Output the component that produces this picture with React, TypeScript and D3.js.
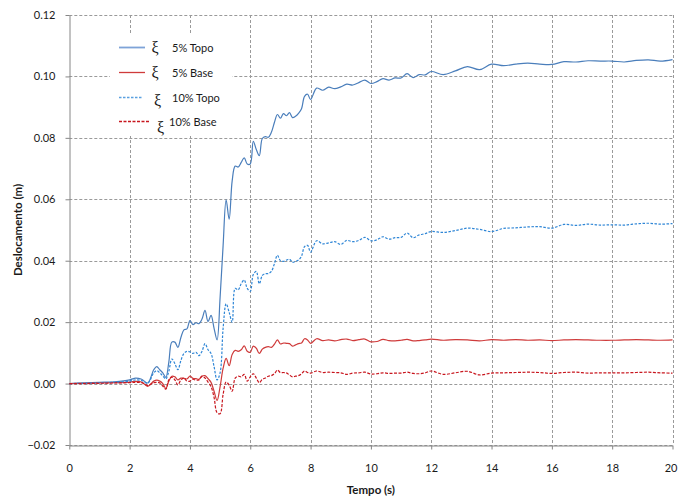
import React, { useEffect, useRef } from 'react';
import * as d3 from 'd3';

// tempo (s)
const tempo = [
  0, 0.5, 1, 1.5, 2, 2.2, 2.4, 2.6,
  2.8, 2.9, 3.0, 3.1, 3.2, 3.3, 3.4, 3.5, 3.6, 3.7, 3.8, 3.9,
  4.0, 4.1, 4.2, 4.3, 4.4, 4.5, 4.6, 4.7, 4.8, 4.9,
  5.0, 5.1, 5.2, 5.3, 5.4, 5.5, 5.6, 5.7, 5.8, 5.9,
  6.0, 6.1, 6.2, 6.3, 6.4, 6.5, 6.6, 6.7, 6.8, 6.9,
  7.0, 7.1, 7.2, 7.3, 7.4, 7.5, 7.6, 7.7, 7.8, 7.9,
  8.0, 8.2, 8.4, 8.6, 8.8, 9.0, 9.2, 9.4, 9.6, 9.8,
  10.0, 10.2, 10.4, 10.6, 10.8, 11.0, 11.2, 11.4, 11.6, 11.8,
  12.0, 12.4, 12.8, 13.2, 13.6, 14.0, 14.4, 14.8, 15.2, 15.6,
  16.0, 16.4, 16.8, 17.2, 17.6, 18.0, 18.4, 18.8, 19.2, 19.6, 20.0,
];

const topo5 = [
  0, 0.0002, 0.0004, 0.0006, 0.0012, 0.0018, 0.0014, 0.0002,
  0.0045, 0.0055, 0.0045, 0.0035, 0.002, 0.007, 0.0135, 0.0135, 0.0118, 0.015, 0.0175, 0.0178,
  0.0205, 0.0192, 0.0198, 0.0195, 0.021, 0.0238, 0.0202, 0.0222, 0.018, 0.0142,
  0.028, 0.045, 0.0598, 0.0535, 0.066, 0.0708, 0.0705, 0.072, 0.0735, 0.0715,
  0.0715, 0.0789, 0.0762, 0.0742, 0.0798, 0.0804, 0.0802, 0.0818, 0.085, 0.0876,
  0.0864, 0.0879, 0.0872, 0.0882, 0.0866, 0.087, 0.088, 0.0895, 0.0935, 0.0942,
  0.0925, 0.0962, 0.0955, 0.0965, 0.096, 0.0966, 0.0975, 0.0972, 0.098, 0.0988,
  0.0977, 0.0983, 0.0993, 0.0988, 0.0995, 0.0995, 0.1009, 0.0996, 0.1006, 0.1005,
  0.1016, 0.1006, 0.1018, 0.1032, 0.1022, 0.104, 0.1035, 0.104, 0.1043, 0.104,
  0.1039, 0.1048, 0.1047, 0.1051, 0.105, 0.105, 0.1047, 0.1052, 0.1054, 0.105, 0.1055,
];

const base5 = [
  0, 0.0001, 0.0002, 0.0003, 0.0005, 0.0007, 0.0005, -0.0009,
  0.0008, 0.0011, 0.0008, 0.0, -0.0016, 0.0008, 0.0024, 0.0022, 0.0012, 0.0018, 0.0017, 0.0015,
  0.0024, 0.0017, 0.0016, 0.0014, 0.0024, 0.0026, 0.0016, 0.0004, -0.0025, -0.0055,
  -0.001, 0.005, 0.0082, 0.0058, 0.0095, 0.0108, 0.0105, 0.011, 0.0123, 0.0105,
  0.0102, 0.0122, 0.0115, 0.0098, 0.0112, 0.0118, 0.012, 0.0118, 0.0128, 0.0142,
  0.0129, 0.0132, 0.0131, 0.013, 0.0122, 0.0126, 0.013, 0.0132, 0.0146, 0.0142,
  0.0131, 0.0146, 0.014, 0.0142, 0.0139, 0.0143, 0.0145, 0.014, 0.0143, 0.0145,
  0.0136, 0.0137, 0.0144, 0.014, 0.0139, 0.0141, 0.0144, 0.0139, 0.014, 0.0142,
  0.0145, 0.0141, 0.0143, 0.0142, 0.0139, 0.0143, 0.0141, 0.0143, 0.0141, 0.0142,
  0.014, 0.0142, 0.0143, 0.0142, 0.0141, 0.0141, 0.0142, 0.0143, 0.0142, 0.0141, 0.0142,
];

const topo10 = [
  0, 0.0001, 0.0003, 0.0004, 0.0008, 0.0012, 0.001, 0.0001,
  0.0035, 0.0042, 0.0035, 0.0025, 0.0015, 0.004, 0.008, 0.0065, 0.0045, 0.0075, 0.0098, 0.0105,
  0.0103, 0.0098, 0.0102, 0.0091, 0.0105, 0.013, 0.011, 0.0098, 0.0055, 0.0012,
  0.0035, 0.018, 0.026, 0.0232, 0.02, 0.031, 0.0305, 0.0325, 0.0337, 0.031,
  0.03, 0.0355, 0.0365, 0.0325, 0.0352, 0.0358, 0.0358, 0.0365, 0.039, 0.0418,
  0.04, 0.0398, 0.0402, 0.0405, 0.0395, 0.0398, 0.0402, 0.0415, 0.0446, 0.045,
  0.0428, 0.0465, 0.0455, 0.0458, 0.0462, 0.0453, 0.0466, 0.0462, 0.0466, 0.0476,
  0.0465, 0.0468, 0.0478, 0.047, 0.0475, 0.0476, 0.049, 0.0475, 0.0484, 0.0488,
  0.0495, 0.0492, 0.0498, 0.0506, 0.0502, 0.0495, 0.0505, 0.0507, 0.051, 0.0511,
  0.0506, 0.0518, 0.0515, 0.0519, 0.0516, 0.0517, 0.0516, 0.052, 0.0522, 0.0519, 0.0521,
];

const base10 = [
  0, 0.0, 0.0001, 0.0002, 0.0003, 0.0004, 0.0003, -0.0006,
  0.0003, 0.0004, 0.0002, -0.0008, -0.0018, 0.0012, 0.0021, 0.0012, -0.0004, 0.0012, 0.0018, 0.0008,
  0.0008, 0.0014, 0.0011, 0.0012, 0.0024, 0.0018, 0.0005, -0.001, -0.0045, -0.0095,
  -0.0098, -0.0035, 0.0005, -0.0005, -0.0025, 0.0018, 0.0024, 0.0022, 0.003, 0.0008,
  0.0022, 0.0032, 0.0018, 0.0003, 0.0014, 0.0018, 0.0024, 0.0026, 0.0032, 0.0044,
  0.0036, 0.0036, 0.0035, 0.0028, 0.0022, 0.0024, 0.0026, 0.0032, 0.0041, 0.0036,
  0.0034, 0.0041, 0.0036, 0.0037, 0.0036, 0.0035, 0.003, 0.0034, 0.0035, 0.0037,
  0.0031, 0.0032, 0.0035, 0.0033, 0.0034, 0.0034, 0.0037, 0.0033, 0.0032, 0.0035,
  0.0041, 0.003, 0.0035, 0.004, 0.0028, 0.0034, 0.0035, 0.0036, 0.0037, 0.0036,
  0.0033, 0.0036, 0.0037, 0.0034, 0.0035, 0.0035, 0.0035, 0.0036, 0.0037, 0.0035, 0.0034,
];

const xTicks = [0, 2, 4, 6, 8, 10, 12, 14, 16, 18, 20];
const yTicks = [-0.02, 0, 0.02, 0.04, 0.06, 0.08, 0.1, 0.12];

const seriesNames = ['5% Topo', '5% Base', '10% Topo', '10% Base'];
const seriesValues = [topo5, base5, topo10, base10];
const seriesColors = ['#4a7ebb', '#cf3b3b', '#2f86d6', '#c8161e'];
const seriesDash = [null, null, '2.5,1.5', '3,1.5'];

const App = () => {
  const ref = useRef<SVGSVGElement>(null);

  useEffect(() => {
    const svgWidth = 678;
    const svgHeight = 500;
    const margin = { top: 15, right: 5.5, bottom: 55, left: 69.3 };
    const font = 'Lato, "Open Sans", sans-serif';

    const x = d3.scaleLinear()
      .domain([0, 20])
      .range([margin.left, svgWidth - margin.right]);

    const y = d3.scaleLinear()
      .domain([-0.02, 0.12])
      .range([svgHeight - margin.bottom, margin.top]);

    const svg = d3.select(ref.current)
      .attr('width', svgWidth)
      .attr('height', svgHeight);
    svg.selectAll('*').remove();

    svg.append('rect')
      .attr('width', svgWidth)
      .attr('height', svgHeight)
      .attr('fill', '#fff');

    // grid
    const grid = svg.append('g')
      .attr('stroke', '#9a9a9a')
      .attr('stroke-dasharray', '3,2')
      .attr('stroke-width', 1);
    grid.selectAll('.gx')
      .data(xTicks.slice(1))
      .join('line')
        .attr('x1', d => Math.round(x(d)) + 0.5)
        .attr('x2', d => Math.round(x(d)) + 0.5)
        .attr('y1', y(0.12))
        .attr('y2', y(-0.02));
    grid.selectAll('.gy')
      .data(yTicks)
      .join('line')
        .attr('x1', x(0))
        .attr('x2', x(20))
        .attr('y1', d => Math.round(y(d)) + 0.5)
        .attr('y2', d => Math.round(y(d)) + 0.5);

    // axes
    const yAxis = svg.append('g')
      .attr('transform', `translate(${Math.round(x(0)) + 0.5},0)`)
      .call(d3.axisLeft(y).tickValues(yTicks).tickFormat(d3.format('.2f')).tickSize(4).tickSizeOuter(0).tickPadding(10));
    const xAxis = svg.append('g')
      .attr('transform', `translate(0,${Math.round(y(-0.02)) + 0.5})`)
      .call(d3.axisBottom(x).tickValues(xTicks).tickFormat(d3.format('d')).tickSize(4).tickSizeOuter(0).tickPadding(15));
    [xAxis, yAxis].forEach(g => {
      g.select('.domain').attr('stroke', '#868686');
      g.selectAll('.tick line').attr('stroke', '#868686');
      g.selectAll('.tick text')
        .attr('fill', '#1a1a1a')
        .style('font-family', font)
        .style('font-size', '11px');
    });
    // keep the last label inside the page
    xAxis.selectAll('.tick text')
      .filter(d => d === 20)
      .attr('dx', -2);

    // series
    const line = d3.line<number>()
      .x((_, i) => x(tempo[i]))
      .y(d => y(d))
      .curve(d3.curveCatmullRom.alpha(0.5));

    svg.append('g')
      .selectAll('path')
      .data(seriesValues)
      .join('path')
        .attr('d', d => line(d))
        .attr('fill', 'none')
        .attr('stroke', (_, i) => seriesColors[i])
        .attr('stroke-width', 1.2)
        .attr('stroke-dasharray', (_, i) => seriesDash[i]);

    // legend
    const legend = svg.append('g');
    legend.append('rect')
      .attr('x', 110)
      .attr('y', 34)
      .attr('width', 122)
      .attr('height', 102)
      .attr('fill', '#fff');

    const rowY = [47.5, 72.5, 97.5, 121.5];
    const lineEnd = [145, 145, 142, 150];
    const xiX = [151.5, 151.5, 154, 157];
    const xiY = [52.5, 77.5, 105.5, 132.5];
    const textX = [172, 172, 172, 169];
    const textY = [51.5, 76.5, 101.5, 126];

    seriesNames.forEach((name, i) => {
      legend.append('line')
        .attr('x1', 119)
        .attr('x2', lineEnd[i])
        .attr('y1', rowY[i])
        .attr('y2', rowY[i])
        .attr('stroke', i === 0 ? '#7ea3d8' : i === 2 ? '#5aa0e0' : seriesColors[i])
        .attr('stroke-width', i === 0 ? 1.8 : 1.3)
        .attr('stroke-dasharray', seriesDash[i]);
      legend.append('text')
        .attr('x', xiX[i])
        .attr('y', xiY[i])
        .style('font-family', '"Liberation Serif", "DejaVu Serif", serif')
        .style('font-size', '16px')
        .attr('fill', '#1a1a1a')
        .text('ξ');
      legend.append('text')
        .attr('x', textX[i])
        .attr('y', textY[i])
        .style('font-family', font)
        .style('font-size', '11px')
        .attr('fill', '#1a1a1a')
        .text(name);
    });

    // titles
    svg.append('text')
      .attr('x', (x(0) + x(20)) / 2)
      .attr('y', 494)
      .attr('text-anchor', 'middle')
      .style('font-family', font)
      .style('font-size', '11.5px')
      .style('font-weight', 'bold')
      .attr('fill', '#1a1a1a')
      .text('Tempo (s)');

    svg.append('text')
      .attr('transform', `translate(22,${(y(0.12) + y(-0.02)) / 2}) rotate(-90)`)
      .attr('text-anchor', 'middle')
      .style('font-family', font)
      .style('font-size', '11.5px')
      .style('font-weight', 'bold')
      .attr('fill', '#1a1a1a')
      .text('Deslocamento (m)');
  }, []);

  return (
    <svg ref={ref} style={{ position: 'absolute', left: 0, top: 0, display: 'block' }} />
  );
};

export default App;
